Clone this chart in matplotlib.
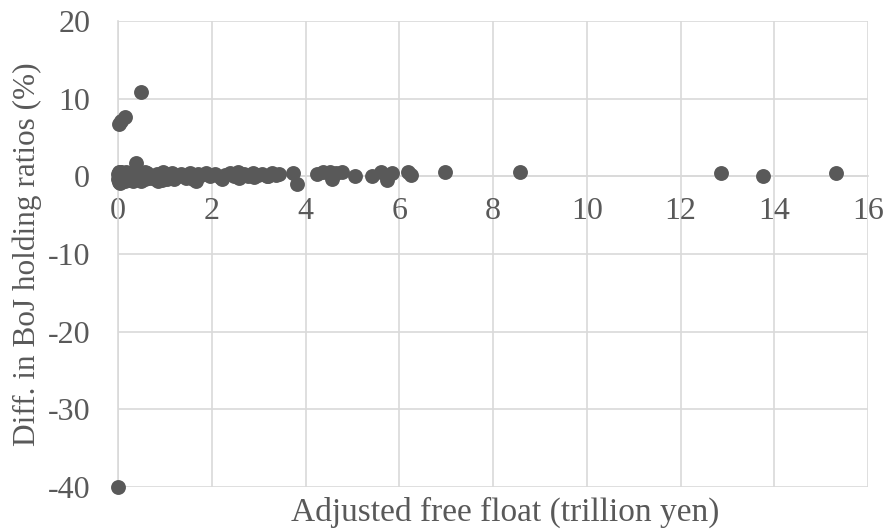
import matplotlib
matplotlib.use("Agg")
import matplotlib.pyplot as plt

# free float (trillion yen) and diff. in BoJ holding ratios (%)
outlier_x = [0.00, 0.03, 0.06, 0.14, 0.49, 0.38]
outlier_y = [-40.0, 6.8, 7.1, 7.7, 10.9, 1.7]

dense_x = [0.00, 0.01, 0.02, 0.03, 0.04, 0.05, 0.06, 0.08, 0.10, 0.12,
           0.14, 0.16, 0.18, 0.20, 0.23, 0.26, 0.29, 0.32, 0.35, 0.41,
           0.45, 0.49, 0.53, 0.57, 0.62, 0.67, 0.72, 0.78, 0.84, 0.90,
           0.97, 1.04, 1.11, 1.19, 1.27, 1.35, 1.44, 1.53, 1.60, 1.66,
           1.70, 0.02, 0.07, 0.11, 0.17, 0.25, 0.33, 0.44, 0.58, 0.75,
           0.93, 1.15, 1.40, 0.05, 0.15, 0.28, 0.52, 0.86, 1.22]
dense_y = [0.3, -0.4, 0.5, -0.2, 0.1, 0.6, -0.5, 0.2, -0.3, 0.4,
           -0.6, 0.0, 0.3, -0.4, 0.2, -0.5, 0.4, -0.1, 0.3, -0.4,
           0.1, -0.6, 0.2, -0.3, 0.4, -0.2, 0.1, -0.4, 0.3, -0.1,
           0.5, -0.3, 0.2, -0.4, 0.1, 0.3, -0.2, 0.4, -0.3, -0.6,
           0.3, -0.7, 0.6, -0.1, 0.5, 0.0, -0.6, -0.4, 0.5, 0.0,
           -0.5, 0.4, 0.1, -0.8, 0.2, -0.2, 0.3, -0.6, -0.1]

mid_x = [1.78, 1.88, 1.97, 2.07, 2.17, 2.28, 2.38, 2.48, 2.58, 2.68,
         2.78, 2.88, 2.98, 3.08, 3.18, 3.28, 3.36, 3.44, 2.22, 2.55,
         2.90, 3.20]
mid_y = [0.2, 0.4, 0.1, 0.3, -0.1, 0.2, 0.4, 0.0, -0.2, 0.3,
         0.1, 0.4, 0.2, 0.3, 0.1, 0.4, 0.2, 0.3, -0.3, 0.5,
         -0.1, 0.0]

right_x = [3.73, 3.81, 4.24, 4.38, 4.52, 4.56, 4.65, 4.77, 5.05, 5.41,
           5.62, 5.73, 5.84, 6.19, 6.26, 6.97, 8.57, 12.87, 13.76, 15.31]
right_y = [0.47, -1.03, 0.35, 0.5, 0.55, -0.3, 0.4, 0.6, 0.1, 0.0,
           0.6, -0.5, 0.4, 0.5, 0.2, 0.5, 0.5, 0.4, 0.04, 0.4]

x = outlier_x + dense_x + mid_x + right_x
y = outlier_y + dense_y + mid_y + right_y

plt.rcParams["font.family"] = ["Liberation Serif", "DejaVu Serif"]
plt.rcParams["axes.unicode_minus"] = False
text_color = "#595959"
grid_color = "#d9d9d9"

fig = plt.figure(figsize=(8.88, 5.32), dpi=100)
ax = fig.add_axes([118 / 888, 1 - 487 / 532, 750 / 888, 466 / 532])

ax.scatter(x, y, s=115, color="#595959", zorder=3, linewidths=0, clip_on=False)

ax.set_xlim(0, 16)
ax.set_ylim(-40, 20)
ax.set_xticks(range(0, 17, 2))
ax.set_yticks(range(-40, 21, 10))
ax.grid(True, color=grid_color, linewidth=1.2, zorder=0)

for side in ["top", "right"]:
    ax.spines[side].set_visible(False)
ax.spines["bottom"].set_position(("data", 0))
ax.spines["bottom"].set_color(grid_color)
ax.spines["left"].set_color(grid_color)
ax.spines["bottom"].set_linewidth(1.2)
ax.spines["left"].set_linewidth(1.2)

ax.tick_params(axis="both", length=0, labelsize=23, colors=text_color)
ax.tick_params(axis="x", pad=15)
ax.tick_params(axis="y", pad=20)

fig.text(505 / 888, 1 - 512 / 532, "Adjusted free float (trillion yen)",
         ha="center", va="center", fontsize=24, color=text_color)
fig.text(27 / 888, 1 - 254 / 532, "Diff. in BoJ holding ratios (%)",
         ha="center", va="center", rotation=90, fontsize=22.5, color=text_color)

fig.savefig("out.png", dpi=100)
